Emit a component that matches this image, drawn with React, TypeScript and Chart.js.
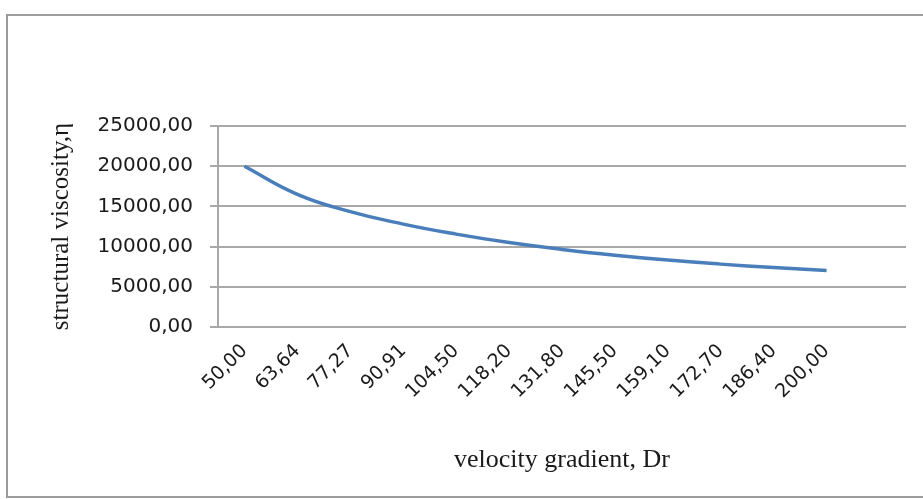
import React, { useEffect, useRef } from "react";
import { Chart, registerables } from "chart.js";

Chart.register(...registerables);

// Velocity gradient categories (the trailing blank slot leaves room on the right of the plot)
const gradientLabels = [
  "50,00", "63,64", "77,27", "90,91", "104,50", "118,20",
  "131,80", "145,50", "159,10", "172,70", "186,40", "200,00", "",
];

// Structural viscosity for each gradient step
const viscosityValues = [
  20000, 16500, 14350, 12800, 11550, 10500,
  9650, 8930, 8320, 7820, 7390, 7030, null,
];

const yMin = 0;
const yMax = 25000;
const yStep = 5000;

const xTitle = "velocity gradient, Dr";
const yTitle = "structural viscosity,η";

const formatComma = (v: number) => v.toFixed(2).replace(".", ",");

// Thin grey frame around the whole chart object
const framePlugin = {
  id: "frame",
  beforeDraw(chart: any) {
    const { ctx, width, height } = chart;
    ctx.save();
    ctx.fillStyle = "#ffffff";
    ctx.fillRect(0, 0, width, height);
    ctx.strokeStyle = "#9c9c9c";
    ctx.lineWidth = 2;
    ctx.strokeRect(7, 15, width + 20, height - 17);
    ctx.restore();
  },
};

export default function App() {
  const canvasRef = useRef<HTMLCanvasElement | null>(null);

  useEffect(() => {
    if (!canvasRef.current) return;
    const chart = new Chart(canvasRef.current, {
      type: "line",
      data: {
        labels: gradientLabels,
        datasets: [
          {
            data: viscosityValues,
            borderColor: "#4A7EBB",
            borderWidth: 3.5,
            pointRadius: 0,
            fill: false,
            tension: 0.45,
          },
        ],
      },
      options: {
        animation: false,
        responsive: false,
        maintainAspectRatio: false,
        layout: { padding: { top: 126, right: 17, left: 0, bottom: 0 } },
        plugins: {
          legend: { display: false },
          tooltip: { enabled: false },
        },
        scales: {
          x: {
            offset: true,
            grid: { display: false },
            border: { display: false },
            ticks: {
              autoSkip: false,
              minRotation: 45,
              maxRotation: 45,
              padding: 5,
              color: "#1a1a1a",
              font: { family: "DejaVu Sans", size: 19 },
            },
            title: {
              display: true,
              text: xTitle,
              color: "#1a1a1a",
              font: { family: "Liberation Serif", size: 26 },
              padding: { top: 0, bottom: 23 },
            },
            afterFit(scale: any) {
              scale.height = 172;
            },
          },
          y: {
            min: yMin,
            max: yMax,
            grid: {
              color: "#a8a8a8",
              lineWidth: 2,
              tickLength: 8,
              drawTicks: true,
            },
            border: { display: true, color: "#a8a8a8", width: 2 },
            ticks: {
              stepSize: yStep,
              padding: 17,
              color: "#1a1a1a",
              font: { family: "DejaVu Sans", size: 20 },
              callback: (v: any) => formatComma(Number(v)),
            },
            title: {
              display: true,
              text: yTitle,
              color: "#1a1a1a",
              font: { family: "Liberation Serif", size: 25 },
              padding: { top: 46, bottom: 0 },
            },
            afterFit(scale: any) {
              scale.width = 218;
            },
          },
        },
      },
      plugins: [framePlugin],
    });
    return () => chart.destroy();
  }, []);

  return (
    <div style={{ position: "fixed", left: 0, top: 0, width: 923, height: 499, background: "#fff" }}>
      <canvas ref={canvasRef} width={923} height={499} style={{ display: "block" }} />
    </div>
  );
}
